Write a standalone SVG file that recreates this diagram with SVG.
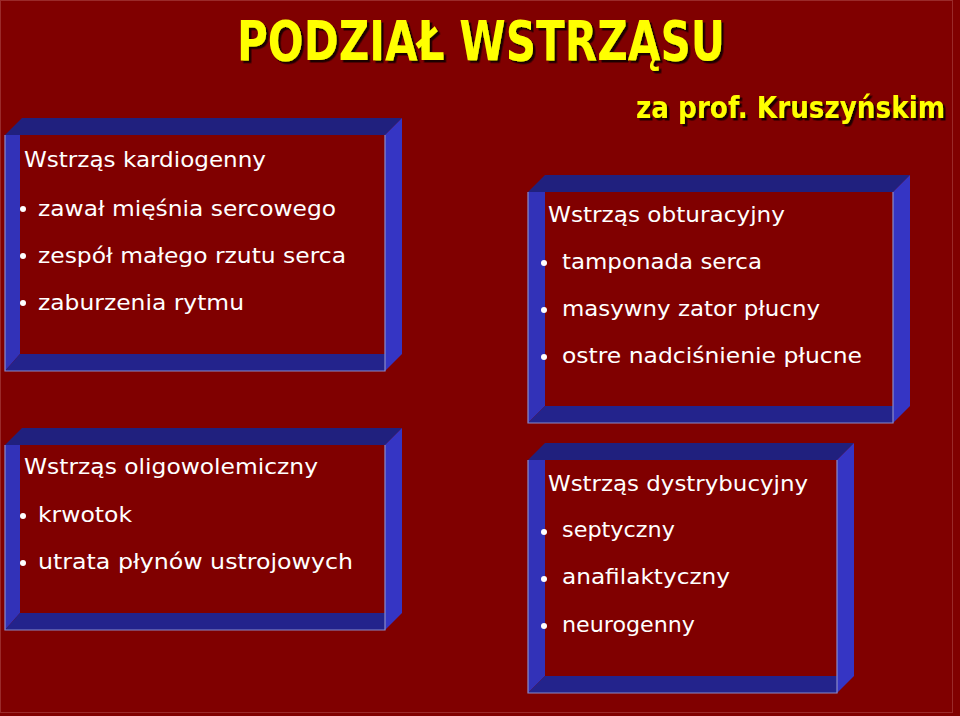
<svg xmlns="http://www.w3.org/2000/svg" width="960" height="716" viewBox="0 0 960 716">
<defs>
<filter id="sh" x="-5%" y="-20%" width="110%" height="140%">
<feDropShadow dx="2.5" dy="2.5" stdDeviation="0.6" flood-color="#1a0000" flood-opacity="1"/>
</filter>
</defs>
<style>
.top{fill:#20207e}
.rgt{fill:#3535c4}
.lft{fill:#3232b8}
.bot{fill:#23238c}
.edge{stroke:#8a8ac8;stroke-width:1.2;fill:none}
.t{font-family:"DejaVu Sans","Liberation Sans",sans-serif;font-size:22px;fill:#ffffff}
.y{font-family:"DejaVu Sans Condensed","DejaVu Sans","Liberation Sans",sans-serif;font-weight:bold;fill:#ffff00;filter:url(#sh)}
.b{fill:#ffffff}
</style>
<rect x="0" y="0" width="960" height="716" fill="#800000"/>
<rect x="0.5" y="0.5" width="952" height="712" fill="none" stroke="#9a2a2a" stroke-width="1"/>

<g id="title">
<text class="y" x="237" y="60" font-size="56" textLength="488" lengthAdjust="spacingAndGlyphs">PODZIAŁ WSTRZĄSU</text>
</g>
<g id="credit">
<text class="y" x="636" y="118" font-size="30" textLength="309" lengthAdjust="spacingAndGlyphs">za prof. Kruszyńskim</text>
</g>

<g id="box-kardiogenny">
<polygon class="top" points="5,135 22,118 402,118 385,135"/>
<polygon class="rgt" points="385,135 402,118 402,354 385,371"/>
<polygon class="lft" points="5,135 20,135 20,354 5,371"/>
<polygon class="bot" points="5,371 20,354 385,354 385,371"/>
<polyline class="edge" points="5,135 5,371 385,371 385,135"/>
<text class="t" x="24" y="167" textLength="242" lengthAdjust="spacingAndGlyphs">Wstrząs kardiogenny</text>
<circle class="b" cx="23" cy="209" r="3"/>
<text class="t" x="38" y="216" textLength="298" lengthAdjust="spacingAndGlyphs">zawał mięśnia sercowego</text>
<circle class="b" cx="23" cy="256" r="3"/>
<text class="t" x="38" y="263" textLength="308" lengthAdjust="spacingAndGlyphs">zespół małego rzutu serca</text>
<circle class="b" cx="23" cy="303" r="3"/>
<text class="t" x="38" y="310" textLength="206" lengthAdjust="spacingAndGlyphs">zaburzenia rytmu</text>
</g>

<g id="box-obturacyjny">
<polygon class="top" points="528,192 545,175 910,175 893,192"/>
<polygon class="rgt" points="893,192 910,175 910,406 893,423"/>
<polygon class="lft" points="528,192 545,192 545,406 528,423"/>
<polygon class="bot" points="528,423 545,406 893,406 893,423"/>
<polyline class="edge" points="528,192 528,423 893,423 893,192"/>
<text class="t" x="548" y="222" textLength="237" lengthAdjust="spacingAndGlyphs">Wstrząs obturacyjny</text>
<circle class="b" cx="544" cy="263" r="3"/>
<text class="t" x="562" y="269" textLength="200" lengthAdjust="spacingAndGlyphs">tamponada serca</text>
<circle class="b" cx="544" cy="310" r="3"/>
<text class="t" x="562" y="316" textLength="258" lengthAdjust="spacingAndGlyphs">masywny zator płucny</text>
<circle class="b" cx="544" cy="357" r="3"/>
<text class="t" x="562" y="363" textLength="300" lengthAdjust="spacingAndGlyphs">ostre nadciśnienie płucne</text>
</g>

<g id="box-oligowolemiczny">
<polygon class="top" points="5,445 22,428 402,428 385,445"/>
<polygon class="rgt" points="385,445 402,428 402,613 385,630"/>
<polygon class="lft" points="5,445 20,445 20,613 5,630"/>
<polygon class="bot" points="5,630 20,613 385,613 385,630"/>
<polyline class="edge" points="5,445 5,630 385,630 385,445"/>
<text class="t" x="24" y="474" textLength="294" lengthAdjust="spacingAndGlyphs">Wstrząs oligowolemiczny</text>
<circle class="b" cx="23" cy="516" r="3"/>
<text class="t" x="38" y="522" textLength="94" lengthAdjust="spacingAndGlyphs">krwotok</text>
<circle class="b" cx="23" cy="563" r="3"/>
<text class="t" x="38" y="569" textLength="315" lengthAdjust="spacingAndGlyphs">utrata płynów ustrojowych</text>
</g>

<g id="box-dystrybucyjny">
<polygon class="top" points="528,460 545,443 854,443 837,460"/>
<polygon class="rgt" points="837,460 854,443 854,676 837,693"/>
<polygon class="lft" points="528,460 545,460 545,676 528,693"/>
<polygon class="bot" points="528,693 545,676 837,676 837,693"/>
<polyline class="edge" points="528,460 528,693 837,693 837,460"/>
<text class="t" x="548" y="491" textLength="260" lengthAdjust="spacingAndGlyphs">Wstrząs dystrybucyjny</text>
<circle class="b" cx="544" cy="532" r="3"/>
<text class="t" x="562" y="537" textLength="113" lengthAdjust="spacingAndGlyphs">septyczny</text>
<circle class="b" cx="544" cy="579" r="3"/>
<text class="t" x="562" y="584" textLength="168" lengthAdjust="spacingAndGlyphs">anafilaktyczny</text>
<circle class="b" cx="544" cy="626" r="3"/>
<text class="t" x="562" y="632" textLength="133" lengthAdjust="spacingAndGlyphs">neurogenny</text>
</g>
<g id="connectors"/>
</svg>
